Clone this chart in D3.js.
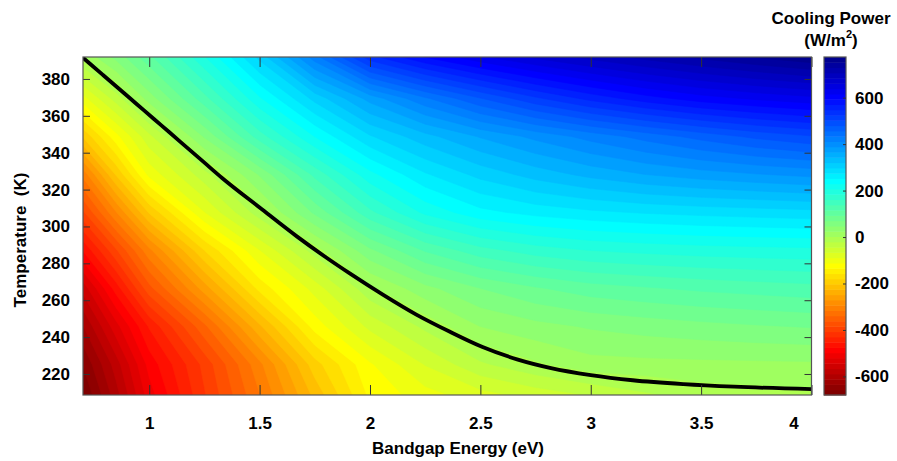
<!DOCTYPE html>
<html><head><meta charset="utf-8">
<script src="https://cdn.jsdelivr.net/npm/d3@7"></script>
<style>
body{margin:0;background:#fff;}
svg text{font-family:"Liberation Sans",Arial,Helvetica,sans-serif;font-weight:bold;fill:#000;}
</style></head><body>
<svg id="chart" width="897" height="461"></svg>
<script>
// ---- data ----
const bandgapEV = [0.7, 0.85, 1.0, 1.25, 1.5, 1.75, 2.0, 2.25, 2.5, 2.75, 3.0, 3.25, 3.5, 3.75, 4.0];
const temperatureK = [207.7, 225.2, 245.8, 266.4, 287.0, 307.6, 328.2, 348.8, 369.4, 392.0];
// one row per temperature (ascending), one column per bandgap
const power_T208 = [-682, -600, -510, -410, -318, -220, -130, -100, -78, -60, -45, -27, -12, -8, -5];
const power_T225 = [-656, -578, -490, -400, -300, -190, -115, -65, -25, -2, 16, 18, 19, 20, 21];
const power_T246 = [-613, -530, -450, -345, -230, -125, -60, -15, 25, 40, 50, 57, 63, 68, 72];
const power_T266 = [-558, -465, -370, -260, -150, -80, -3, 40, 70, 90, 105, 113, 120, 125, 130];
const power_T287 = [-474, -388, -300, -180, -90, -10, 65, 118, 152, 172, 184, 190, 195, 198, 200];
const power_T308 = [-389, -295, -200, -90, -8, 75, 155, 212, 245, 260, 270, 277, 282, 286, 290];
const power_T328 = [-308, -200, -105, -30, 50, 145, 222, 272, 305, 330, 350, 366, 378, 387, 395];
const power_T349 = [-200, -120, -50, 50, 150, 230, 295, 335, 368, 395, 420, 443, 465, 485, 500];
const power_T369 = [-98, -33, 35, 130, 226, 305, 375, 430, 478, 520, 555, 583, 605, 620, 632];
const power_T392 = [5, 55, 110, 205, 305, 425, 540, 595, 635, 667, 693, 716, 736, 755, 772];
const coolingPowerRows = [power_T208, power_T225, power_T246, power_T266, power_T287,
                          power_T308, power_T328, power_T349, power_T369, power_T392];
// zero cooling power curve (black line)
const zeroLineEg = [0.70, 0.79, 0.88, 0.94, 1.02, 1.09, 1.17, 1.25, 1.33, 1.50, 1.67, 1.80, 1.91, 2.06, 2.21, 2.36, 2.51, 2.67, 2.82, 3.00, 3.19, 3.42, 3.65, 4.00];
const zeroLineT  = [391.5, 382.2, 372.9, 366.7, 358.4, 351.2, 342.9, 334.6, 326.3, 310.3, 294.5, 283.3, 274.4, 262.9, 252.2, 243.0, 234.6, 227.8, 223.2, 219.4, 216.6, 214.5, 213.1, 211.8];
const xTicks = [1, 1.5, 2, 2.5, 3, 3.5, 4];
const yTicks = [220, 240, 260, 280, 300, 320, 340, 360, 380];
const cbTicks = [-600, -400, -200, 0, 200, 400, 600];
const colorDomain = [-680, 775];
const nLevels = 64;

// ---- layout ----
const svg = d3.select("#chart");
const plot = {left: 83, right: 811.5, top: 57, bottom: 395};
const cb = {left: 824, right: 846};
const x = d3.scaleLinear().domain([0.7, 4.0]).range([plot.left, plot.right]);
const y = d3.scaleLinear().domain([208.6, 391.9]).range([plot.bottom, plot.top]);

// MATLAB-style jet(64)
function jet(m){
  const n = Math.ceil(m/4);
  const u = [...d3.range(1, n+1).map(i => i/n), ...Array(n-1).fill(1), ...d3.range(n, 0, -1).map(i => i/n)];
  const g0 = Math.ceil(n/2) - (m % 4 === 1 ? 1 : 0);
  const cols = Array.from({length: m}, () => [0, 0, 0]);
  u.forEach((val, k) => {
    const gi = g0 + k + 1, ri = gi + n, bi = gi - n;
    if (ri >= 1 && ri <= m) cols[ri-1][0] = val;
    if (gi >= 1 && gi <= m) cols[gi-1][1] = val;
    if (bi >= 1 && bi <= m) cols[bi-1][2] = val;
  });
  return cols.map(c => d3.rgb(c[0]*255, c[1]*255, c[2]*255).formatHex());
}
const jetCols = jet(nLevels).reverse(); // low -> red
const step = (colorDomain[1] - colorDomain[0]) / nLevels;
const thresholds = d3.range(nLevels).map(k => colorDomain[0] + k*step);

// ---- heatmap via filled contours ----
const nx = bandgapEV.length, ny = temperatureK.length;
const values = coolingPowerRows.flat();
const idxToEg = d3.scaleLinear().domain(d3.range(nx)).range(bandgapEV);
const idxToT = d3.scaleLinear().domain(d3.range(ny)).range(temperatureK);
const clampX = c => Math.max(0, Math.min(nx-1, c - 0.5));
const clampY = c => Math.max(0, Math.min(ny-1, c - 0.5));
const proj = d3.geoTransform({
  point: function(cx, cy){ this.stream.point(x(idxToEg(clampX(cx))), y(idxToT(clampY(cy)))); }
});
const path = d3.geoPath(proj);
const contours = d3.contours().size([nx, ny]).thresholds(thresholds)(values);

svg.append("clipPath").attr("id", "plotClip").append("rect")
  .attr("x", plot.left).attr("y", plot.top)
  .attr("width", plot.right - plot.left).attr("height", plot.bottom - plot.top);

const gMap = svg.append("g").attr("clip-path", "url(#plotClip)");
gMap.append("rect").attr("x", plot.left).attr("y", plot.top)
  .attr("width", plot.right - plot.left).attr("height", plot.bottom - plot.top)
  .attr("fill", jetCols[0]);
gMap.selectAll("path.band").data(contours).join("path")
  .attr("class", "band")
  .attr("d", path)
  .attr("fill", (d, i) => jetCols[i])
  .attr("stroke", (d, i) => jetCols[i])
  .attr("stroke-width", 0.6);

// zero line
const line = d3.line().x(d => x(d[0])).y(d => y(d[1])).curve(d3.curveMonotoneX);
gMap.append("path")
  .datum(zeroLineEg.map((e, i) => [e, zeroLineT[i]]))
  .attr("d", line).attr("fill", "none").attr("stroke", "#000").attr("stroke-width", 3.8)
  .attr("stroke-linejoin", "round");

// ---- axes ----
const axisColor = "#555";
function styleAxis(g){
  g.select(".domain").remove();
  g.selectAll(".tick line").attr("stroke", "#333").attr("stroke-width", 1);
  g.selectAll(".tick text").style("font-size", "17px").attr("fill", "#000");
}
const plain = d => String(d);
const xAxisB = svg.append("g").attr("transform", `translate(0,${plot.bottom})`)
  .call(d3.axisBottom(x).tickValues(xTicks).tickFormat(plain).tickSizeInner(-10).tickSizeOuter(0).tickPadding(22))
  .call(styleAxis);
xAxisB.selectAll(".tick text").filter(d => d === 4).attr("dx", -18);
svg.append("g").attr("transform", `translate(0,${plot.top})`)
  .call(d3.axisTop(x).tickValues(xTicks).tickFormat("").tickSizeInner(-10).tickSizeOuter(0))
  .call(styleAxis);
svg.append("g").attr("transform", `translate(${plot.left},0)`)
  .call(d3.axisLeft(y).tickValues(yTicks).tickFormat(plain).tickSizeInner(-7).tickSizeOuter(0).tickPadding(13))
  .call(styleAxis);
svg.append("g").attr("transform", `translate(${plot.right},0)`)
  .call(d3.axisRight(y).tickValues(yTicks).tickFormat("").tickSizeInner(-7).tickSizeOuter(0))
  .call(styleAxis);
svg.append("rect").attr("x", plot.left).attr("y", plot.top)
  .attr("width", plot.right - plot.left).attr("height", plot.bottom - plot.top)
  .attr("fill", "none").attr("stroke", axisColor).attr("stroke-width", 1.2);

// axis titles
svg.append("text").attr("x", 458).attr("y", 448).attr("text-anchor", "middle")
  .attr("dominant-baseline", "central").style("font-size", "17px").text("Bandgap Energy (eV)");
svg.append("text").attr("transform", "translate(20,240) rotate(-90)").attr("text-anchor", "middle")
  .attr("dominant-baseline", "central").style("font-size", "17px").style("white-space", "pre")
  .text("Temperature  (K)");

// ---- colorbar ----
const cy = d3.scaleLinear().domain(colorDomain).range([plot.bottom, plot.top]);
svg.append("g").selectAll("rect").data(thresholds).join("rect")
  .attr("x", cb.left).attr("width", cb.right - cb.left)
  .attr("y", d => cy(d + step)).attr("height", d => cy(d) - cy(d + step) + 0.5)
  .attr("fill", (d, i) => jetCols[i]);
svg.append("rect").attr("x", cb.left).attr("y", plot.top).attr("width", cb.right - cb.left)
  .attr("height", plot.bottom - plot.top).attr("fill", "none").attr("stroke", axisColor).attr("stroke-width", 1.2);
const cbAxis = svg.append("g").attr("transform", `translate(${cb.right},0)`)
  .call(d3.axisRight(cy).tickValues(cbTicks).tickFormat(plain).tickSizeInner(-3).tickSizeOuter(0).tickPadding(9))
  .call(styleAxis);

// colorbar title
svg.append("text").attr("x", 831).attr("y", 18).attr("text-anchor", "middle")
  .attr("dominant-baseline", "central").style("font-size", "17px").text("Cooling Power");
const t2 = svg.append("text").attr("x", 831).attr("y", 40).attr("text-anchor", "middle")
  .attr("dominant-baseline", "central").style("font-size", "17px");
t2.append("tspan").text("(W/m");
t2.append("tspan").attr("dy", -6).style("font-size", "11px").text("2");
t2.append("tspan").attr("dy", 6).text(")");
</script>
</body></html>
